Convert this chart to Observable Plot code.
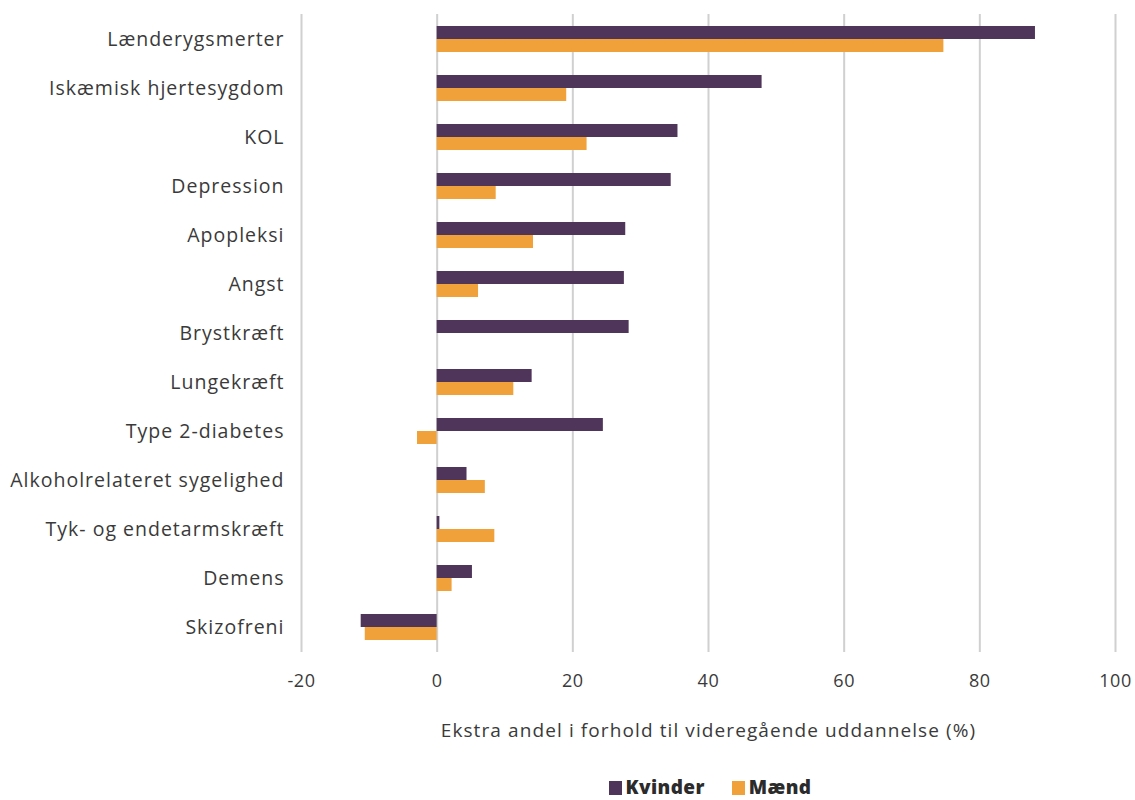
<!DOCTYPE html>
<html>
<head>
<meta charset="utf-8">
<script src="https://cdn.jsdelivr.net/npm/d3@7"></script>
<script src="https://cdn.jsdelivr.net/npm/@observablehq/plot@0.6"></script>
<style>
  body { margin: 0; background: #fff; font-family: "Open Sans", sans-serif; overflow: hidden; }
  #legend { display: flex; justify-content: center; gap: 27px; font-weight: 800; font-size: 19px; color: #2b2b2b; padding-left: 285px; height: 22px; line-height: 22px; align-items: center; margin-top: 16px; letter-spacing: 0.4px; }
  #legend span.sw { display: inline-block; width: 13px; height: 14px; margin-right: 4px; vertical-align: -1px; }
  #chart svg g[aria-label="y-axis tick label"] text { letter-spacing: 1.0px; }
  #chart svg g[aria-label="x-axis tick label"] text { letter-spacing: 0.6px; }
  #chart svg g[aria-label="text"] text { letter-spacing: 1.1px; }
</style>
</head>
<body>
<div id="chart"></div>
<div id="legend"></div>
<script>
const categories = ["Lænderygsmerter", "Iskæmisk hjertesygdom", "KOL", "Depression", "Apopleksi", "Angst", "Brystkræft", "Lungekræft", "Type 2-diabetes", "Alkoholrelateret sygelighed", "Tyk- og endetarmskræft", "Demens", "Skizofreni"];
const kvinder = [88.2, 47.9, 35.5, 34.5, 27.8, 27.6, 28.3, 14.0, 24.5, 4.4, 0.4, 5.2, -11.2];
const maend   = [74.7, 19.1, 22.1, 8.7, 14.2, 6.1, null, 11.3, -2.9, 7.1, 8.5, 2.2, -10.6];
const series = ["Kvinder", "Mænd"];
const colors = ["#4f3559", "#f0a13a"];
const xTicks = [-20, 0, 20, 40, 60, 80, 100];
const xLabel = "Ekstra andel i forhold til videregående uddannelse (%)";

const dataK = categories.map((c, i) => ({category: c, value: kvinder[i]})).filter(d => d.value != null);
const dataM = categories.map((c, i) => ({category: c, value: maend[i]})).filter(d => d.value != null);

const height = 760;
const chart = Plot.plot({
  width: 1135,
  height,
  marginTop: 14,
  marginBottom: height - 652,
  marginLeft: 301,
  marginRight: 20,
  style: {fontFamily: "Open Sans, sans-serif", color: "#3a3a3a", background: "#fff"},
  x: {domain: [-20, 100], ticks: xTicks},
  y: {domain: categories, paddingInner: 0.47, paddingOuter: 0.245},
  marks: [
    Plot.gridX(xTicks, {stroke: "#d0d0d0", strokeOpacity: 1, strokeWidth: 2}),
    Plot.barX(dataK, {x: "value", y: "category", fill: colors[0], insetBottom: 13}),
    Plot.barX(dataM, {x: "value", y: "category", fill: colors[1], insetTop: 13}),
    Plot.axisY({tickSize: 0, tickPadding: 17, fontSize: 19.5, label: null, fill: "#3a3a3a"}),
    Plot.axisX(xTicks, {tickSize: 0, tickPadding: 22, fontSize: 18, label: null, fill: "#3a3a3a", tickFormat: d => String(d)}),
    Plot.text([xLabel], {frameAnchor: "bottom", dy: 84, text: d => d, fontSize: 19, fill: "#3a3a3a"})
  ]
});
document.getElementById("chart").appendChild(chart);

const legend = document.getElementById("legend");
series.forEach((s, i) => {
  const item = document.createElement("div");
  item.innerHTML = `<span class="sw" style="background:${colors[i]}"></span>${s}`;
  legend.appendChild(item);
});
</script>
</body>
</html>
